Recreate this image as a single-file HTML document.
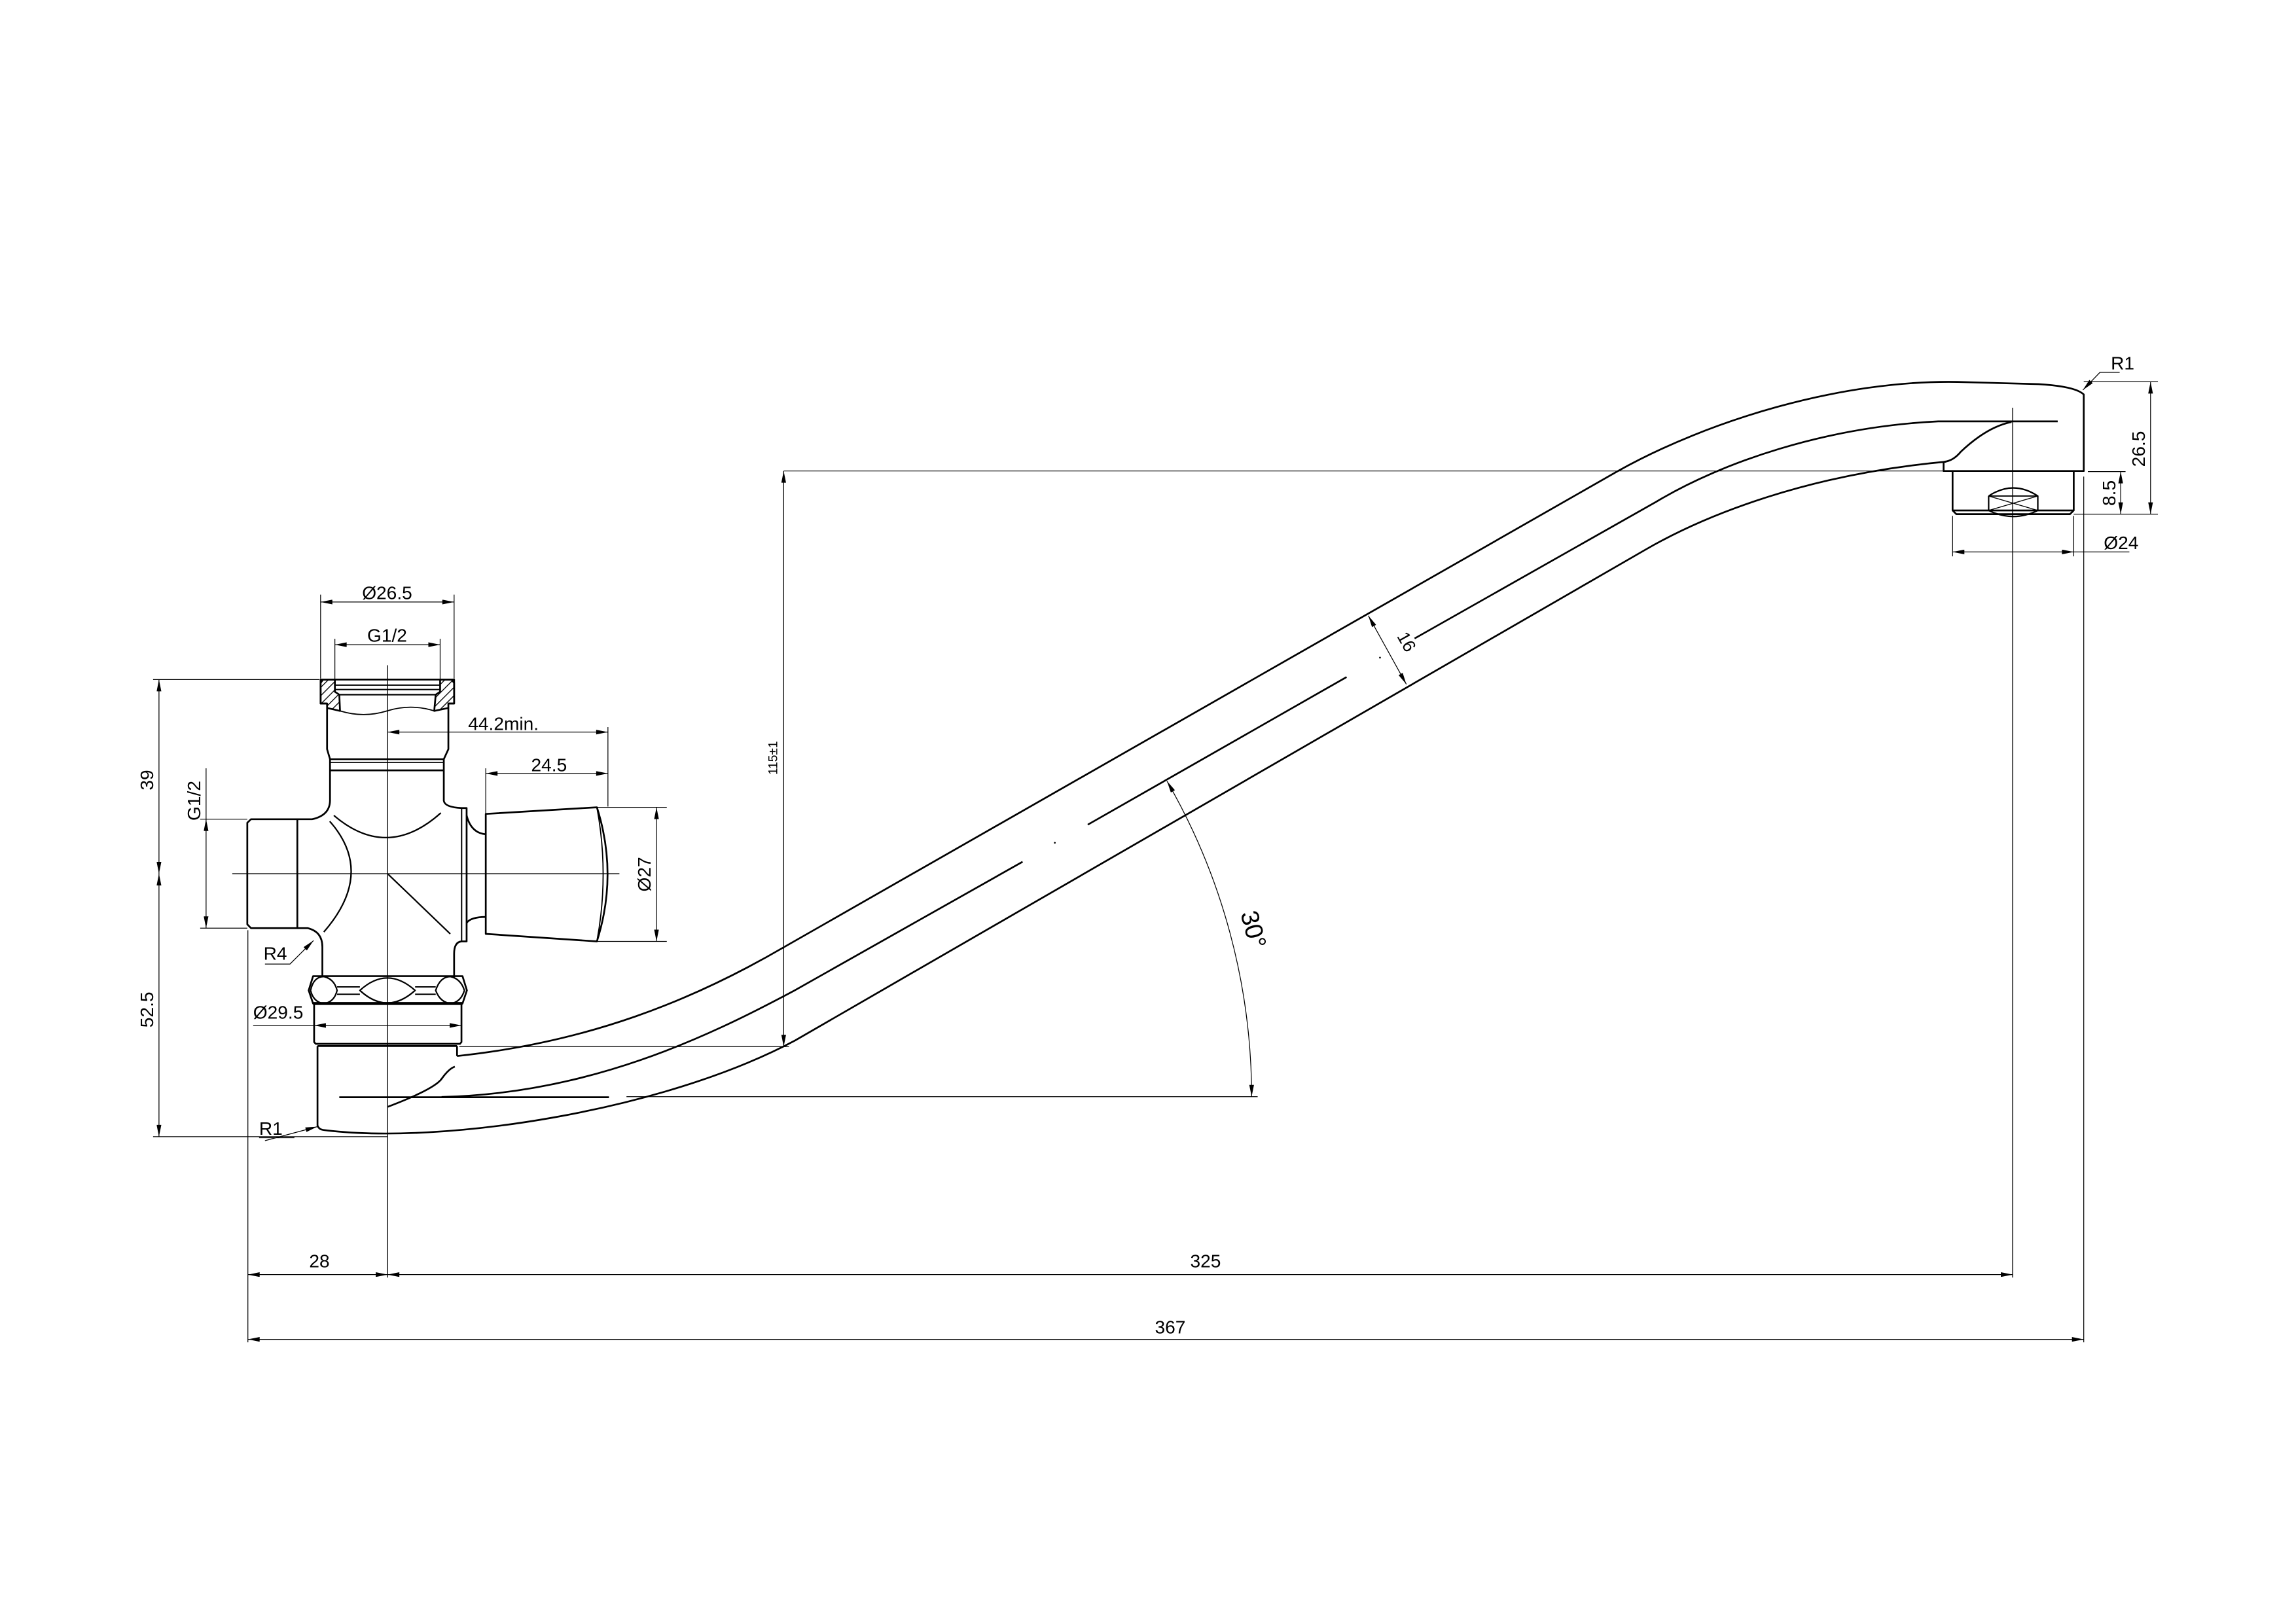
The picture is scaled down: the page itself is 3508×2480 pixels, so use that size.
<!DOCTYPE html>
<html><head><meta charset="utf-8">
<style>
html,body{margin:0;padding:0;background:#fff;}
svg{display:block;}
text{font-family:"Liberation Sans Narrow","Liberation Sans",sans-serif;fill:#000;}
</style></head>
<body>
<svg width="3508" height="2480" viewBox="0 0 1559.8 1102.7" xmlns="http://www.w3.org/2000/svg">
<defs>
<marker id="a" viewBox="0 0 10 4" refX="10" refY="2" markerWidth="9" markerHeight="3.2" markerUnits="userSpaceOnUse" orient="auto-start-reverse">
<path d="M0,0 L10,2 L0,4 Z" fill="#000"/>
</marker>
<pattern id="h" width="4" height="4" patternUnits="userSpaceOnUse" patternTransform="rotate(45)">
<line x1="0" y1="0" x2="0" y2="4" stroke="#000" stroke-width="1.2"/>
</pattern>
</defs>
<rect width="1559.8" height="1102.7" fill="#fff"/>

<g fill="none" stroke="#000" stroke-width="1.2" stroke-linejoin="round">
<path d="M310.5,717.5 C400,708 470,680 532.8,643.4 L1099.2,320 C1160,286 1250,258 1330,259.5 L1385,261 Q1410,262.5 1415.6,268 L1415.6,320 L1320.4,320 L1320.4,313.7"/>
<path d="M300,745.3 C400,743 480,705 540,672.8 L694.7,585.5"/>
<path d="M739,560.3 L914.8,460"/>
<path d="M961,433.8 L1125,341 C1170,314 1240,290 1316.7,286.3 L1397.9,286.3"/>
<path d="M219.4,767.7 C300,778 450,755 540,707 L1117.6,373.6 C1160,349 1230,322 1322,313.7"/>
<path d="M1321,313.7 Q1327,313 1332,307 Q1350,290 1366.5,286.7"/>
<path d="M1326.5,320 L1326.5,346.8 L1329,349.3 L1406.3,349.3 L1408.8,346.8 L1408.8,320"/>
<line x1="1326.5" y1="346.8" x2="1408.8" y2="346.8"/>
<path d="M1351,337 Q1367.7,326 1384.4,337 L1384.4,346.8 M1351,337 L1351,346.8 Q1367.7,355 1384.4,346.8" stroke-width="1"/>
<line x1="1351" y1="337" x2="1384.4" y2="346.8" stroke-width="0.6"/>
<line x1="1384.4" y1="337" x2="1351" y2="346.8" stroke-width="0.6"/>
<line x1="1351" y1="337" x2="1384.4" y2="337" stroke-width="0.8"/>
<path d="M263.1,752.1 Q295,740 300,733 Q305,726 309,724.7"/>
<line x1="230.5" y1="745.5" x2="413.7" y2="745.5"/>
</g>
<circle cx="716.6" cy="572.6" r="0.6"/>
<circle cx="937.5" cy="446.8" r="0.6"/>

<g fill="none" stroke="#000" stroke-width="1.2" stroke-linejoin="round">
<path d="M219.5,461.7 L306.8,461.7 L308.5,464 L308.5,478 L304.6,478 M219.5,461.7 L217.8,464 L217.8,478 L222.2,478"/>
<path d="M217.8,461.7 L227.5,461.7 L227.5,470 L230.5,472 L231,483 L222.2,481 L222.2,478 L217.8,478 Z" fill="url(#h)"/>
<path d="M308.5,461.7 L299,461.7 L299,470 L296,472 L295,483 L304.6,481 L304.6,478 L308.5,478 Z" fill="url(#h)"/>
<line x1="227.5" y1="465.5" x2="299" y2="465.5" stroke-width="0.9"/>
<line x1="227.5" y1="468.5" x2="299" y2="468.5" stroke-width="0.9"/>
<line x1="231" y1="472" x2="296" y2="472" stroke-width="1"/>
<path d="M231,483 Q247,488 263,483 Q279,478 295,483" stroke-width="0.8"/>
<path d="M222.2,481 L222.2,509 L224.2,515.8 M304.6,481 L304.6,509 L301.5,515.8"/>
<line x1="224.2" y1="515.8" x2="301.5" y2="515.8"/>
<line x1="224.2" y1="518" x2="301.5" y2="518" stroke-width="0.8"/>
<line x1="224.2" y1="523.4" x2="301.5" y2="523.4"/>
<path d="M224.2,515.8 L224.2,544 Q224,554 212,556.6 L202,556.6"/>
<path d="M202,630.6 L209,630.6 Q219,633 219,643.4 L219,664"/>
<path d="M301.5,515.8 L301.5,544 Q302,548.4 313.6,549 L317,549 L317,639.6 L313.6,639.6 Q308.5,640 308.5,648 L308.5,664"/>
<line x1="313.6" y1="549" x2="313.6" y2="639.6" stroke-width="0.9"/>
<path d="M202,556.6 L170.5,556.6 L168,559 L168,628 L170.5,630.6 L202,630.6 Z"/>
<path d="M317,554 Q320,566 330,566.8 M317,627 Q320,623 330,623"/>
<path d="M330,553 L405.5,548.5 Q420,594 405.5,639.6 L330,634.5 Z"/>
<path d="M405.5,548.5 Q414,594 405.5,639.6" stroke-width="0.8"/>
<path d="M226.8,554 Q263,585 299.5,552.3" stroke-width="1"/>
<path d="M224,558 Q255,593 220,633.2" stroke-width="1"/>
<line x1="263.3" y1="593.6" x2="305.9" y2="634.5" stroke-width="1"/>
<path d="M212.7,663.2 L314.2,663.2 L317.2,672.9 L314.2,681.8 L212.7,681.8 L209.7,672.9 Z"/>
<path d="M211,672.9 Q213,663.5 220,663.5 Q227,665 229,672.9 Q227,681 220,681.8 Q213,681 211,672.9 Z" stroke-width="1"/>
<path d="M296,672.9 Q299,663.5 306,663.5 Q313,665 315.5,672.9 Q313,681 306,681.8 Q299,681 296,672.9 Z" stroke-width="1"/>
<path d="M244.5,672.9 Q263,656 282,672.9 Q263,690 244.5,672.9 Z" stroke-width="1"/>
<line x1="229" y1="670.5" x2="244.5" y2="670.5" stroke-width="0.9"/>
<line x1="229" y1="675.5" x2="244.5" y2="675.5" stroke-width="0.9"/>
<line x1="282" y1="670.5" x2="296" y2="670.5" stroke-width="0.9"/>
<line x1="282" y1="675.5" x2="296" y2="675.5" stroke-width="0.9"/>
<line x1="212.7" y1="681.8" x2="314.2" y2="681.8" stroke-width="2"/>
<path d="M213.4,682.5 L213.4,708 L214.5,709.2 L312.5,709.2 L313.5,708 L313.5,682.5"/>
<line x1="215.7" y1="710.7" x2="310.5" y2="710.7"/>
<path d="M215.7,710.7 L215.7,764.7 Q216.5,767.2 219.4,767.7"/>
<path d="M310.5,710.7 L310.5,717.5"/>
</g>

<g stroke="#000" stroke-width="0.6" fill="none">
<line x1="263.3" y1="452" x2="263.3" y2="868"/>
<line x1="157.8" y1="593.6" x2="420.8" y2="593.6"/>
<line x1="1367.3" y1="277" x2="1367.3" y2="868"/>
<line x1="1358" y1="286.3" x2="1397.9" y2="286.3"/>
</g>

<g stroke="#000" stroke-width="0.55" fill="none">
<line x1="104" y1="461.7" x2="217" y2="461.7"/>
<line x1="104" y1="772.3" x2="263" y2="772.3"/>
<line x1="108" y1="461.7" x2="108" y2="593.6" marker-start="url(#a)" marker-end="url(#a)"/>
<line x1="108" y1="593.6" x2="108" y2="772.3" marker-start="url(#a)" marker-end="url(#a)"/>
<line x1="136" y1="556.6" x2="168" y2="556.6"/>
<line x1="136" y1="630.6" x2="168" y2="630.6"/>
<line x1="140" y1="522" x2="140" y2="556.6" />
<line x1="140" y1="556.6" x2="140" y2="630.6" marker-start="url(#a)" marker-end="url(#a)"/>
<line x1="217.8" y1="404" x2="217.8" y2="461"/>
<line x1="308.5" y1="404" x2="308.5" y2="461"/>
<line x1="217.8" y1="409" x2="308.5" y2="409" marker-start="url(#a)" marker-end="url(#a)"/>
<line x1="227.5" y1="434" x2="227.5" y2="462"/>
<line x1="299" y1="434" x2="299" y2="462"/>
<line x1="227.5" y1="438" x2="299" y2="438" marker-start="url(#a)" marker-end="url(#a)"/>
<line x1="263.3" y1="497.4" x2="413" y2="497.4" marker-start="url(#a)" marker-end="url(#a)"/>
<line x1="413" y1="494" x2="413" y2="548"/>
<line x1="330" y1="522" x2="330" y2="553"/>
<line x1="330" y1="525.5" x2="413" y2="525.5" marker-start="url(#a)" marker-end="url(#a)"/>
<line x1="405.5" y1="548.5" x2="453" y2="548.5"/>
<line x1="405.5" y1="639.6" x2="453" y2="639.6"/>
<line x1="446" y1="548.5" x2="446" y2="639.6" marker-start="url(#a)" marker-end="url(#a)"/>
<line x1="172" y1="696.7" x2="213.4" y2="696.7"/>
<line x1="213.4" y1="696.7" x2="313.5" y2="696.7" marker-start="url(#a)" marker-end="url(#a)"/>
<polyline points="180,655 197,655 213,639" marker-end="url(#a)"/>
<polyline points="176,773 200,773" />
<line x1="180" y1="775" x2="215.5" y2="765.5" marker-end="url(#a)"/>
<line x1="168.4" y1="632" x2="168.4" y2="912"/>
<line x1="168.4" y1="866" x2="263.3" y2="866" marker-start="url(#a)" marker-end="url(#a)"/>
<line x1="263.3" y1="866" x2="1367.3" y2="866" marker-start="url(#a)" marker-end="url(#a)"/>
<line x1="1415.6" y1="323.8" x2="1415.6" y2="912"/>
<line x1="168.4" y1="910" x2="1415.6" y2="910" marker-start="url(#a)" marker-end="url(#a)"/>
<line x1="532.4" y1="320" x2="1320" y2="320"/>
<line x1="312" y1="711.1" x2="536" y2="711.1"/>
<line x1="532.4" y1="320" x2="532.4" y2="711.1" marker-start="url(#a)" marker-end="url(#a)"/>
<line x1="425.6" y1="745.1" x2="854.4" y2="745.1"/>
<path d="M792.8,530.7 A428.8,428.8 0 0 1 850.3,745.1" marker-start="url(#a)" marker-end="url(#a)"/>
<line x1="929.6" y1="418.3" x2="955.4" y2="464.9" marker-start="url(#a)" marker-end="url(#a)"/>
<polyline points="1440,253 1426.6,253 1415,265" marker-end="url(#a)"/>
<line x1="1415.6" y1="259.4" x2="1466" y2="259.4"/>
<line x1="1408.8" y1="349.3" x2="1466" y2="349.3"/>
<line x1="1461" y1="259.4" x2="1461" y2="349.3" marker-start="url(#a)" marker-end="url(#a)"/>
<line x1="1418.4" y1="320.4" x2="1444" y2="320.4"/>
<line x1="1440.7" y1="320.4" x2="1440.7" y2="349.3" marker-start="url(#a)" marker-end="url(#a)"/>
<line x1="1326.5" y1="350.5" x2="1326.5" y2="378"/>
<line x1="1408.8" y1="350.5" x2="1408.8" y2="378"/>
<line x1="1326.5" y1="375" x2="1408.8" y2="375" marker-start="url(#a)" marker-end="url(#a)"/>
<line x1="1408.8" y1="375" x2="1446.6" y2="375"/>
</g>

<g font-size="12.5" text-anchor="middle">
<text x="263" y="407">Ø26.5</text>
<text x="263" y="436">G1/2</text>
<text x="342" y="496">44.2min.</text>
<text x="373" y="524">24.5</text>
<text transform="translate(442,594) rotate(-90)">Ø27</text>
<text transform="translate(104,530) rotate(-90)">39</text>
<text transform="translate(104,686) rotate(-90)">52.5</text>
<text transform="translate(136,544) rotate(-90)">G1/2</text>
<text x="189" y="692">Ø29.5</text>
<text x="187" y="652">R4</text>
<text x="184" y="771">R1</text>
<text x="217" y="861">28</text>
<text x="819" y="861">325</text>
<text x="795" y="906">367</text>
<text x="1442" y="251">R1</text>
<text transform="translate(1457,305) rotate(-90)">26.5</text>
<text transform="translate(1437,335) rotate(-90)">8.5</text>
<text x="1441" y="373">Ø24</text>
<text transform="translate(952,438) rotate(61)" font-size="12">16</text>
<text transform="translate(528,515) rotate(-90)" font-size="8.5">115±1</text>
<text transform="translate(846,633) rotate(75)" font-size="17">30°</text>
</g>
</svg>
</body></html>
